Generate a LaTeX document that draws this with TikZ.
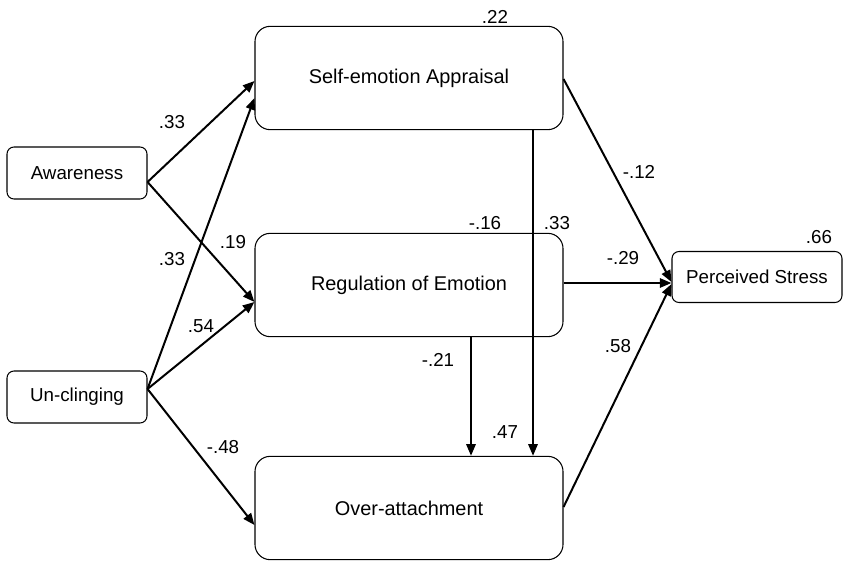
\documentclass[tikz,border=0pt]{standalone}
\usepackage{fontspec}
\setmainfont{Liberation Sans}
\usetikzlibrary{calc,arrows.meta}

\begin{document}
\begin{tikzpicture}[x=0.03cm, y=-0.03cm,
    box/.style={draw, line width=0.9pt, inner sep=0pt, font=\fontsize{16}{19}\selectfont},
    smallbox/.style={box, rounded corners=6pt, minimum width=4.2cm, minimum height=1.56cm},
    bigbox/.style={box, rounded corners=13pt, minimum width=9.24cm, minimum height=3.1cm, font=\fontsize{17}{20}\selectfont},
    arr/.style={line width=1.7pt, -{Triangle[length=10pt,width=8pt]}},
    coef/.style={font=\fontsize{16}{19}\selectfont, inner sep=1pt}]
    \useasboundingbox (0,0) rectangle (843,562);

    % Variables
    \node[smallbox] (aw) at (77,173) {Awareness};
    \node[smallbox] (un) at (77,397) {Un-clinging};
    \node[bigbox] (sea) at (409,78) {Self-emotion Appraisal};
    \node[bigbox] (roe) at (409,285) {Regulation of Emotion};
    \node[bigbox] (oa) at (409,508) {Over-attachment};
    \node[smallbox, minimum width=5.1cm, minimum height=1.53cm] (ps) at (757,277) {Perceived Stress};

    % Paths from the predictors
    \draw[arr] ($(aw.east)+(0,9)$) -- ($(sea.west)+(0,3)$);
    \draw[arr] ($(aw.east)+(0,9)$) -- ($(roe.west)+(0,17)$);
    \draw[arr] ($(un.east)+(0,-8)$) -- ($(sea.west)+(0,20)$);
    \draw[arr] ($(un.east)+(0,-8)$) -- ($(roe.west)+(0,17)$);
    \draw[arr] ($(un.east)+(0,-8)$) -- ($(oa.west)+(0,17)$);

    % Mediators to over-attachment
    \draw[arr] ($(roe.south)+(62,0)$) -- ($(oa.north)+(62,0)$);
    \draw[arr] ($(sea.south)+(124,0)$) -- ($(oa.north)+(124,0)$);

    % Paths to the outcome
    \draw[arr] ($(sea.east)+(0,1)$) -- ($(ps.west)+(0,5)$);
    \draw[arr] ($(roe.east)+(0,-2)$) -- ($(ps.west)+(0,6)$);
    \draw[arr] ($(oa.east)+(0,-1)$) -- ($(ps.west)+(0,7)$);

    % Coefficients
    \node[coef] (r1) at (495,17) {.22};
    \node[coef] (r2) at (819,237) {.66};
    \node[coef] (c1) at (172,122) {.33};
    \node[coef] (c2) at (233,242) {.19};
    \node[coef] (c3) at (172,259) {.33};
    \node[coef] (c4) at (201,326) {.54};
    \node[coef] (c5) at (223,447) {-.48};
    \node[coef] (c6) at (485,223) {-.16};
    \node[coef] (c7) at (557,223) {.33};
    \node[coef] (c8) at (438,360) {-.21};
    \node[coef] (c9) at (505,432) {.47};
    \node[coef] (c10) at (639,172) {-.12};
    \node[coef] (c11) at (623,258) {-.29};
    \node[coef] (c12) at (618,346) {.58};
\end{tikzpicture}
\end{document}
